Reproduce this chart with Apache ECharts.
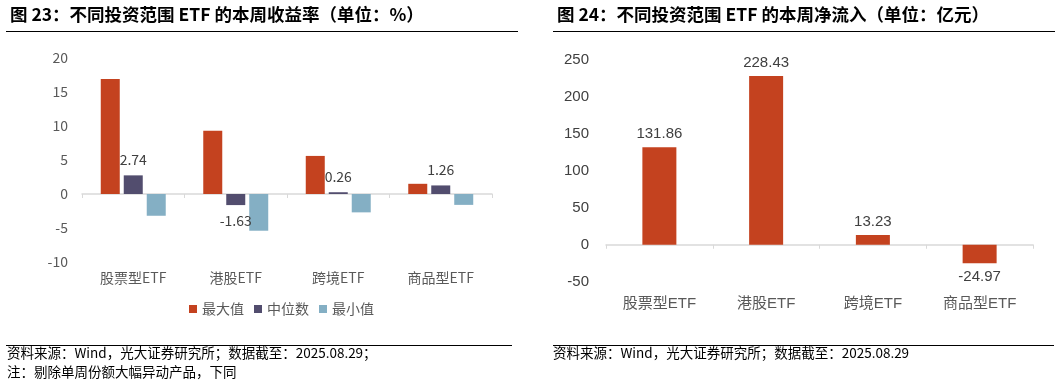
<!DOCTYPE html>
<html>
<head>
<meta charset="utf-8">
<script src="https://cdn.jsdelivr.net/npm/echarts@6/dist/echarts.min.js"></script>
<style>
html,body{margin:0;padding:0;background:#fff;}
#c{width:1064px;height:384px;}
</style>
</head>
<body>
<div id="c"></div>
<script>
var categories = ['股票型ETF', '港股ETF', '跨境ETF', '商品型ETF'];
var maxValues = [16.9, 9.3, 5.6, 1.5];
var medianValues = [2.74, -1.63, 0.26, 1.26];
var minValues = [-3.2, -5.4, -2.7, -1.6];
var flowValues = [131.86, 228.43, 13.23, -24.97];
var seriesNames = ['最大值', '中位数', '最小值'];
var title1 = '图 23：不同投资范围 ETF 的本周收益率（单位：%）';
var title2 = '图 24：不同投资范围 ETF 的本周净流入（单位：亿元）';
var note1a = '资料来源：Wind，光大证券研究所；数据截至：2025.08.29；';
var note1b = '注：剔除单周份额大幅异动产品，下同';
var note2 = '资料来源：Wind，光大证券研究所；数据截至：2025.08.29';

var CJK = "'Noto Sans CJK SC', 'Noto Sans', sans-serif";
var ARIAL = "'Liberation Sans', 'Noto Sans CJK SC', sans-serif";
var RED = '#C4421F', PURPLE = '#524D6E', BLUE = '#84AFC4';

var chart = echarts.init(document.getElementById('c'), null, {renderer: 'canvas'});

function labelFmt(p) { return p.value.toFixed(2); }

var option = {
  animation: false,
  backgroundColor: '#fff',
  textStyle: {fontFamily: CJK},
  title: [
    {text: title1, left: 5, top: 1, textStyle: {fontFamily: CJK, fontSize: 17.5, fontWeight: 'bold', color: '#000'}},
    {text: title2, left: 552, top: 1, textStyle: {fontFamily: CJK, fontSize: 17.5, fontWeight: 'bold', color: '#000'}}
  ],
  graphic: [
    {type: 'line', shape: {x1: 6, y1: 31.5, x2: 518, y2: 31.5}, style: {stroke: '#000', lineWidth: 1}},
    {type: 'line', shape: {x1: 553, y1: 31.5, x2: 1055, y2: 31.5}, style: {stroke: '#000', lineWidth: 1}},
    {type: 'line', shape: {x1: 6, y1: 345.5, x2: 512, y2: 345.5}, style: {stroke: '#000', lineWidth: 1}},
    {type: 'line', shape: {x1: 553, y1: 345.5, x2: 1054, y2: 345.5}, style: {stroke: '#000', lineWidth: 1}},
    {type: 'text', left: 7, top: 346, style: {text: note1a, font: '13.5px ' + CJK, fill: '#000'}},
    {type: 'text', left: 7, top: 365, style: {text: note1b, font: '13.5px ' + CJK, fill: '#000'}},
    {type: 'text', left: 553, top: 346, style: {text: note2, font: '13.5px ' + CJK, fill: '#000'}}
  ],
  legend: {
    data: seriesNames,
    left: 184, top: 297,
    icon: 'rect', itemWidth: 8, itemHeight: 8, itemGap: 10,
    textStyle: {fontFamily: CJK, fontSize: 14, color: '#595959'}
  },
  grid: [
    {left: 82, top: 58, width: 410, height: 204},
    {left: 606, top: 60, width: 427, height: 221.7}
  ],
  xAxis: [
    {type: 'category', gridIndex: 0, data: categories, position: 'bottom',
     axisLine: {show: false, onZero: false}, axisTick: {show: false},
     axisLabel: {margin: 9, fontFamily: CJK, fontSize: 14, color: '#595959'}},
    {type: 'category', gridIndex: 0, data: categories,
     axisLine: {show: true, onZero: true, lineStyle: {color: '#d9d9d9', width: 1.5}},
     axisTick: {show: true, inside: true, length: 4, lineStyle: {color: '#d9d9d9'}},
     axisLabel: {show: false}},
    {type: 'category', gridIndex: 1, data: categories, position: 'bottom',
     axisLine: {show: false, onZero: false}, axisTick: {show: false},
     axisLabel: {margin: 15, fontFamily: ARIAL, fontSize: 15, color: '#595959'}},
    {type: 'category', gridIndex: 1, data: categories,
     axisLine: {show: true, onZero: true, lineStyle: {color: '#d9d9d9', width: 1.5}},
     axisTick: {show: true, inside: true, length: 4, lineStyle: {color: '#d9d9d9'}},
     axisLabel: {show: false}}
  ],
  yAxis: [
    {type: 'value', gridIndex: 0, min: -10, max: 20, interval: 5,
     axisLine: {show: false}, axisTick: {show: false}, splitLine: {show: false},
     axisLabel: {margin: 14, fontFamily: CJK, fontSize: 14, color: '#595959'}},
    {type: 'value', gridIndex: 1, min: -50, max: 250, interval: 50,
     axisLine: {show: false}, axisTick: {show: false}, splitLine: {show: false},
     axisLabel: {margin: 17, fontFamily: ARIAL, fontSize: 15, color: '#404040'}}
  ],
  series: [
    {name: seriesNames[0], type: 'bar', xAxisIndex: 0, yAxisIndex: 0, data: maxValues,
     barWidth: 19, barGap: '21%', itemStyle: {color: RED}},
    {name: seriesNames[1], type: 'bar', xAxisIndex: 0, yAxisIndex: 0,
     data: medianValues.map(function (v) {
       return {value: v, label: {position: v >= 0 ? 'top' : 'bottom'}};
     }),
     barWidth: 19, barGap: '21%', itemStyle: {color: PURPLE},
     label: {show: true, distance: 9, formatter: labelFmt, fontFamily: CJK, fontSize: 14, color: '#404040'}},
    {name: seriesNames[2], type: 'bar', xAxisIndex: 0, yAxisIndex: 0, data: minValues,
     barWidth: 19, barGap: '21%', itemStyle: {color: BLUE}},
    {name: '本周净流入', type: 'bar', xAxisIndex: 2, yAxisIndex: 1,
     data: flowValues.map(function (v) {
       return {value: v, label: {position: v >= 0 ? 'top' : 'bottom'}};
     }),
     barWidth: 34, itemStyle: {color: RED},
     label: {show: true, distance: 6, formatter: labelFmt, fontFamily: ARIAL, fontSize: 15, color: '#404040'}}
  ]
};
chart.setOption(option);
</script>
</body>
</html>
